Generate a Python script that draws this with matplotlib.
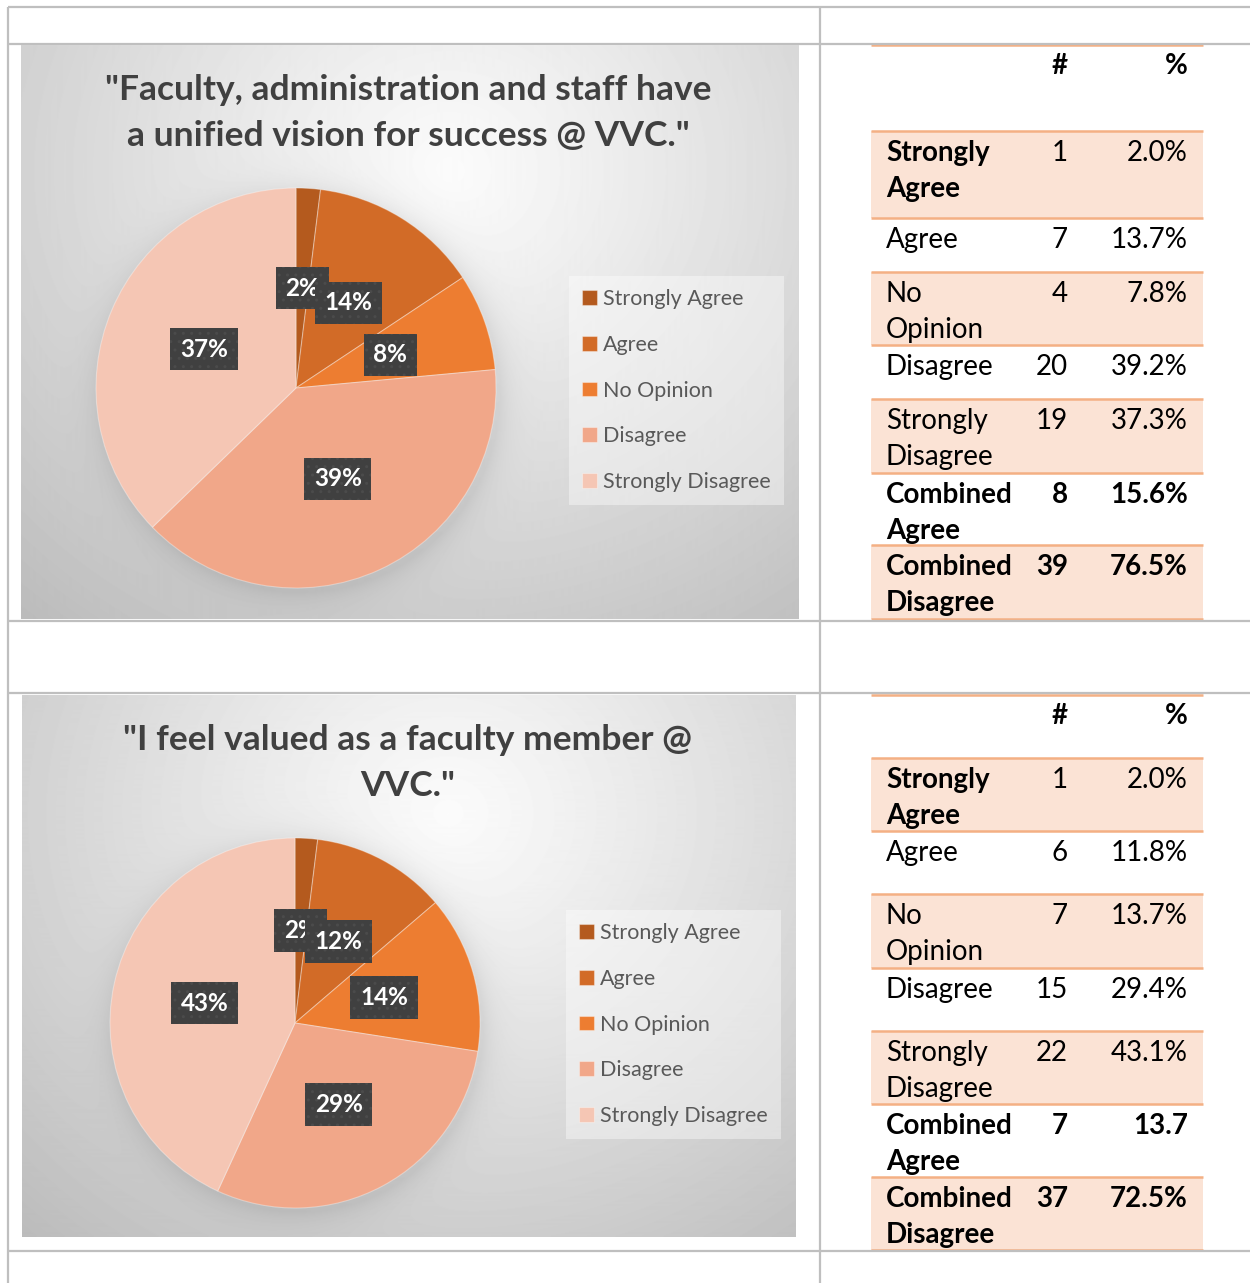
import numpy as np
import matplotlib.pyplot as plt
from matplotlib.patches import Rectangle

W, H = 1250, 1283
plt.rcParams['font.family'] = ['Lato', 'DejaVu Sans']

# ---- data ----
categories = ["Strongly Agree", "Agree", "No Opinion", "Disagree", "Strongly Disagree"]
row_labels = ["Strongly\nAgree", "Agree", "No\nOpinion", "Disagree",
              "Strongly\nDisagree", "Combined\nAgree", "Combined\nDisagree"]

title1 = ['"Faculty, administration and staff have', 'a unified vision for success @ VVC."']
counts1 = [1, 7, 4, 20, 19]
pct1 = ["2.0%", "13.7%", "7.8%", "39.2%", "37.3%"]
combined_counts1 = [8, 39]
combined_pct1 = ["15.6%", "76.5%"]

title2 = ['"I feel valued as a faculty member @', 'VVC."']
counts2 = [1, 6, 7, 15, 22]
pct2 = ["2.0%", "11.8%", "13.7%", "29.4%", "43.1%"]
combined_counts2 = [7, 37]
combined_pct2 = ["13.7", "72.5%"]

colors = ["#B45A1E", "#D26B27", "#ED7D31", "#F1A789", "#F5C6B4"]
GRID = "#BFBFBF"
ORANGE = "#F4B084"
SHADE = "#FBE3D5"

fig = plt.figure(figsize=(W / 100, H / 100), dpi=100)

# document layer in pixel coordinates
doc = fig.add_axes([0, 0, 1, 1])
doc.set_xlim(0, W)
doc.set_ylim(H, 0)
doc.axis('off')


def px_axes(x0, y0, x1, y1):
    return fig.add_axes([x0 / W, 1 - y1 / H, (x1 - x0) / W, (y1 - y0) / H])


def chart(box, center, r, counts, title, title_base, legend_xy):
    x0, y0, x1, y1 = box
    cx, cy = center
    # gradient background
    bg = px_axes(x0, y0, x1, y1)
    bg.axis('off')
    w, h = x1 - x0, y1 - y0
    yy, xx = np.mgrid[0:h, 0:w]
    d = np.hypot(xx - 0.55 * w, (yy - 0.22 * h) * 1.1)
    val = 0.985 - 0.25 * np.clip(d / np.hypot(0.55 * w, 0.85 * h), 0, 1) ** 1.1
    dp = np.hypot(xx - (cx - x0) - 3, yy - (cy - y0) - 4)
    val -= 0.07 * np.exp(-np.clip(dp - r, 0, None) / 14.0)
    bg.imshow(val, cmap='gray', vmin=0, vmax=1, extent=(0, w, h, 0), aspect='auto')
    bg.set_xlim(0, w)
    bg.set_ylim(h, 0)

    for k, line in enumerate(title):
        bg.text(w / 2 - 1, title_base - y0 + 46 * k, line, ha='center', va='baseline',
                fontsize=25.5, fontweight='bold', color='#404040', zorder=5)

    ax = px_axes(cx - r, cy - r, cx + r, cy + r)
    ax.patch.set_visible(False)
    wedges, _, autotexts = ax.pie(
        counts, colors=colors, startangle=90, counterclock=False, radius=1,
        autopct='%.0f%%', pctdistance=0.5,
        wedgeprops=dict(edgecolor=(1, 1, 1, 0.35), linewidth=0.8))
    ax.set_xlim(-1, 1)
    ax.set_ylim(-1, 1)
    ax.axis('off')
    for t in autotexts:
        t.set_color('white')
        t.set_fontsize(17.5)
        t.set_fontweight('bold')
        t.set_bbox(dict(boxstyle='square,pad=0.4', fc='#404040', ec='#4B4B4B',
                        lw=0, hatch='..'))

    lx, ly = legend_xy
    leg = fig.legend(wedges, categories, loc='upper left',
                     bbox_to_anchor=(lx / W, 1 - ly / H), borderaxespad=0,
                     frameon=True, fancybox=False, facecolor='white', framealpha=0.4,
                     edgecolor='none', fontsize=15.5, labelcolor='#595959',
                     handlelength=0.68, handleheight=0.68, handletextpad=0.3,
                     labelspacing=1.2, borderpad=0.6)
    leg.set_zorder(10)


def table(bounds, counts, pcts, ccounts, cpcts):
    xl, xr = 871, 1203
    nums = [str(c) for c in counts] + [str(c) for c in ccounts]
    ps = list(pcts) + list(cpcts)
    for i in range(len(row_labels)):
        top, bot = bounds[i + 1], bounds[i + 2]
        if i % 2 == 0:
            doc.add_patch(Rectangle((xl, top), xr - xl, bot - top, fc=SHADE, ec='none', zorder=1))
        bold_lab = 'bold' if i in (0, 5, 6) else 'normal'
        bold_num = 'bold' if i in (5, 6) else 'normal'
        for k, line in enumerate(row_labels[i].split('\n')):
            doc.text(886, top + 30 + 36 * k, line, ha='left', va='baseline',
                     fontsize=20, fontweight=bold_lab, color='black', zorder=3)
        doc.text(1068, top + 30, nums[i], ha='right', va='baseline',
                 fontsize=20, fontweight=bold_num, color='black', zorder=3)
        doc.text(1188, top + 30, ps[i], ha='right', va='baseline',
                 fontsize=20, fontweight=bold_num, color='black', zorder=3)
    doc.text(1068, bounds[0] + 29, '#', ha='right', va='baseline', fontsize=20,
             fontweight='bold', zorder=3)
    doc.text(1188, bounds[0] + 29, '%', ha='right', va='baseline', fontsize=20,
             fontweight='bold', zorder=3)
    doc.hlines(bounds, xl, xr, colors=ORANGE, linewidth=1.8, zorder=2)


# outer document table grid
doc.hlines([7, 44, 621, 693, 1251], 8, W, colors=GRID, linewidth=1.6, zorder=4)
doc.vlines([8, 820], 7, H, colors=GRID, linewidth=1.6, zorder=4)

chart((21, 45, 798, 619), (296, 388), 200, counts1, title1, 100, (569, 276))
chart((22, 695, 796, 1237), (295, 1023), 185, counts2, title2, 750, (566, 910))

table([45, 131, 218, 272, 345, 399, 473, 545, 619], counts1, pct1, combined_counts1, combined_pct1)
table([695, 758, 831, 894, 968, 1031, 1104, 1177, 1250], counts2, pct2, combined_counts2, combined_pct2)

fig.savefig('out.png', dpi=100)
